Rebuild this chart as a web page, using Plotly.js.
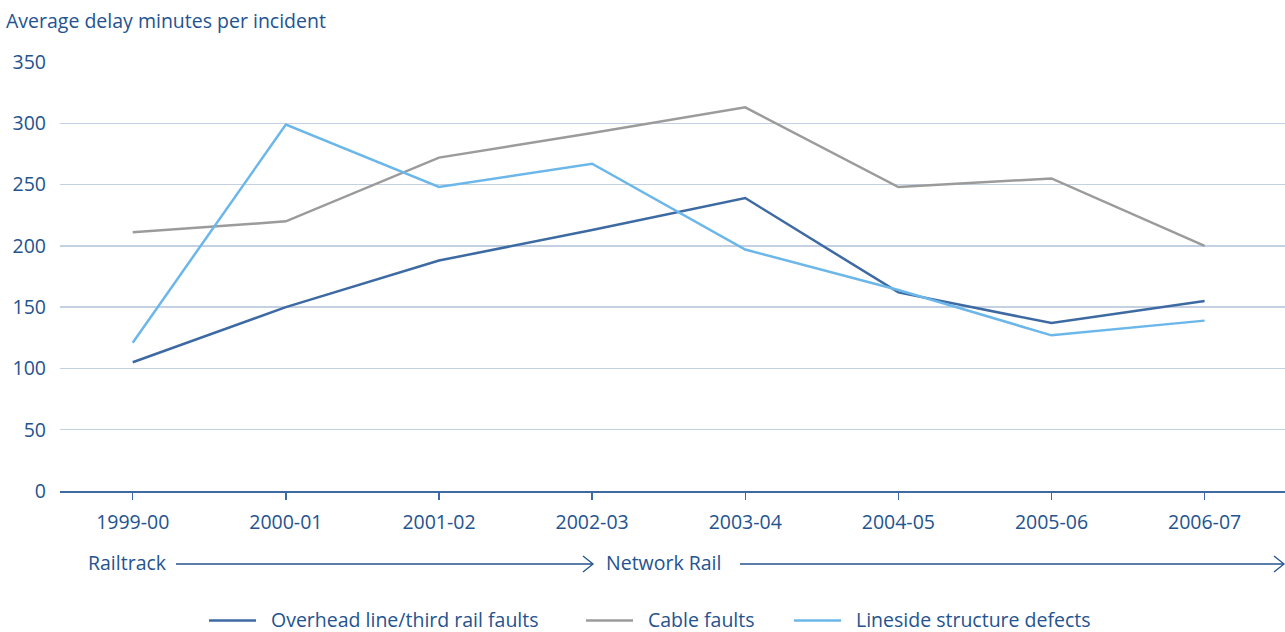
<!DOCTYPE html>
<html>
<head>
<meta charset="utf-8">
<script src="https://cdn.plot.ly/plotly-3.0.1.min.js"></script>
<style>
  html, body { margin: 0; padding: 0; background: #ffffff; }
  #chart { width: 1285px; height: 632px; }
</style>
</head>
<body>
<div id="chart"></div>
<script>
// Financial years on the category axis
const categories = ['1999-00', '2000-01', '2001-02', '2002-03', '2003-04', '2004-05', '2005-06', '2006-07'];

// Average delay minutes per incident, by cause
const overheadLine = [105, 150, 188, 213, 239, 162, 137, 155];
const cableFaults = [211, 220, 272, 292, 313, 248, 255, 200];
const linesideDefects = [121, 299, 248, 267, 197, 164, 127, 139];

const seriesNames = ['Overhead line/third rail faults', 'Cable faults', 'Lineside structure defects'];
const seriesValues = [overheadLine, cableFaults, linesideDefects];
const seriesColors = ['#3d6aa2', '#9b9b9b', '#6cb7e9'];

const yTicks = [0, 50, 100, 150, 200, 250, 300, 350];

const textColor = '#24538f';
const fontFamily = '"Open Sans", Lato, sans-serif';
const fontSize = 19.5;

// Plot area geometry (pixels), used to place the legend and the ownership row
const W = 1285, H = 632;
const M = { l: 60, r: 0, t: 62, b: 141 };
const plotW = W - M.l - M.r;
const plotH = H - M.t - M.b;
const px = x => (x - M.l) / plotW;
const py = y => (H - M.b - y) / plotH;

const traces = seriesValues.map((vals, i) => ({
  type: 'scatter',
  mode: 'lines',
  x: categories,
  y: vals,
  name: seriesNames[i],
  line: { color: seriesColors[i], width: 2.5 },
  showlegend: false,
  hoverinfo: 'x+y+name'
}));

const shapes = [];
const annotations = [];

// Legend row along the bottom
const legendStarts = [209, 586, 794];
seriesNames.forEach((name, i) => {
  const x0 = legendStarts[i];
  shapes.push({
    type: 'line', xref: 'paper', yref: 'paper',
    x0: px(x0), x1: px(x0 + 47), y0: py(620.5), y1: py(620.5),
    line: { color: seriesColors[i], width: 2.5 }
  });
  annotations.push({
    xref: 'paper', yref: 'paper', x: px(x0 + 60), y: py(619),
    xanchor: 'left', yanchor: 'middle', showarrow: false,
    text: name, font: { family: fontFamily, size: fontSize, color: textColor }
  });
});

// Railtrack -> Network Rail ownership row
const arrowY = 564;
function arrow(xStart, xEnd) {
  shapes.push({
    type: 'line', xref: 'paper', yref: 'paper',
    x0: px(xStart), x1: px(xEnd), y0: py(arrowY), y1: py(arrowY),
    line: { color: textColor, width: 1.3 }
  });
  shapes.push({
    type: 'path', xref: 'paper', yref: 'paper',
    path: 'M ' + px(xEnd - 10) + ',' + py(arrowY - 8) +
          ' L ' + px(xEnd) + ',' + py(arrowY) +
          ' L ' + px(xEnd - 10) + ',' + py(arrowY + 8),
    line: { color: textColor, width: 1.3 }
  });
}
arrow(176, 593);
arrow(740, 1284);
annotations.push({
  xref: 'paper', yref: 'paper', x: px(86), y: py(562),
  xanchor: 'left', yanchor: 'middle', showarrow: false,
  text: 'Railtrack', font: { family: fontFamily, size: fontSize, color: textColor }
});
annotations.push({
  xref: 'paper', yref: 'paper', x: px(604), y: py(562),
  xanchor: 'left', yanchor: 'middle', showarrow: false,
  text: 'Network Rail', font: { family: fontFamily, size: fontSize, color: textColor }
});

const layout = {
  width: W,
  height: H,
  margin: M,
  paper_bgcolor: '#ffffff',
  plot_bgcolor: '#ffffff',
  font: { family: fontFamily, size: fontSize, color: textColor },
  showlegend: false,
  title: {
    text: 'Average delay minutes per incident',
    xref: 'container', yref: 'container',
    x: 6 / W, xanchor: 'left',
    y: 1 - 21 / H, yanchor: 'middle',
    font: { family: fontFamily, size: fontSize, color: textColor }
  },
  xaxis: {
    type: 'category',
    range: [-0.475, 7.525],
    showgrid: false,
    zeroline: false,
    showline: true,
    linecolor: '#3d6aa2',
    linewidth: 1.5,
    ticks: 'outside',
    ticklen: 7,
    tickwidth: 1.3,
    tickcolor: '#3d6aa2',
    ticklabelstandoff: 6,
    tickfont: { family: fontFamily, size: fontSize, color: textColor }
  },
  yaxis: {
    range: [0, 350],
    tickvals: yTicks,
    ticktext: yTicks.map(String),
    showgrid: true,
    gridcolor: '#c3d1e2',
    gridwidth: 1.5,
    zeroline: false,
    showline: false,
    ticks: '',
    ticklabelstandoff: 13,
    tickfont: { family: fontFamily, size: fontSize, color: textColor }
  },
  shapes: shapes,
  annotations: annotations
};

Plotly.newPlot('chart', traces, layout, { displayModeBar: false, staticPlot: true });
</script>
</body>
</html>
